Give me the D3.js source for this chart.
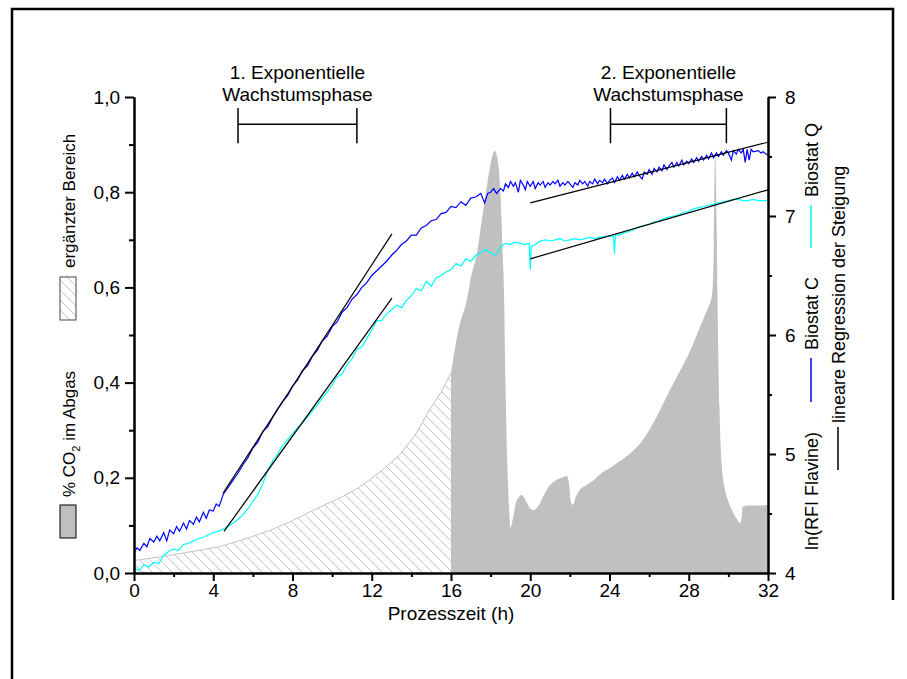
<!DOCTYPE html>
<html>
<head>
<meta charset="utf-8">
<script src="https://cdn.jsdelivr.net/npm/d3@7"></script>
<style>
  body { margin: 0; background: #fff; }
  text { font-family: "Liberation Sans", Arial, sans-serif; fill: #000; }
</style>
</head>
<body>
<script>
// % CO2 im Abgas, gemessen (linke Achse)
var co2Measured = [[16.0,0.42],[16.37,0.51],[16.83,0.58],[17.0,0.62],[17.3,0.67],[17.55,0.74],[17.8,0.81],[18.0,0.86],[18.2,0.887],[18.35,0.87],[18.48,0.81],[18.61,0.67],[18.68,0.58],[18.75,0.40],[18.85,0.22],[18.95,0.12],[19.0,0.095],[19.1,0.11],[19.3,0.15],[19.57,0.164],[19.8,0.15],[20.0,0.135],[20.14,0.132],[20.4,0.14],[20.7,0.165],[21.0,0.185],[21.3,0.195],[21.6,0.2],[21.84,0.204],[21.95,0.19],[22.05,0.15],[22.16,0.143],[22.3,0.16],[22.5,0.175],[22.85,0.185],[23.2,0.195],[23.6,0.21],[24.0,0.22],[24.5,0.234],[25.0,0.25],[25.5,0.27],[26.0,0.3],[26.55,0.342],[27.0,0.38],[27.5,0.42],[28.0,0.46],[28.23,0.482],[28.6,0.52],[29.0,0.56],[29.1,0.57],[29.2,0.595],[29.27,0.70],[29.33,0.889],[29.4,0.75],[29.45,0.58],[29.55,0.35],[29.66,0.23],[29.8,0.18],[29.92,0.16],[30.2,0.13],[30.4,0.115],[30.6,0.105],[30.68,0.12],[30.72,0.139],[31.0,0.142],[31.5,0.142],[32.0,0.143]];

// ergänzter Bereich (linke Achse)
var co2Supplemented = [[0,0.026],[1.3,0.034],[2.5,0.042],[4.3,0.055],[5.5,0.07],[6.9,0.09],[8.0,0.11],[9.4,0.139],[10.5,0.16],[11.4,0.181],[12.5,0.215],[13.4,0.248],[14.2,0.29],[14.9,0.342],[15.5,0.38],[16.0,0.42]];

// ln(RFI Flavine), blaue Kurve (rechte Achse)
var rfiBlue = [[0,4.17],[0.15,4.21],[0.3,4.19],[0.5,4.25],[0.65,4.22],[0.8,4.29],[1,4.26],[1.15,4.31],[1.3,4.27],[1.5,4.34],[1.65,4.27],[1.8,4.36],[2,4.33],[2.15,4.39],[2.3,4.35],[2.5,4.42],[2.65,4.37],[2.8,4.44],[3,4.41],[3.15,4.47],[3.3,4.43],[3.5,4.51],[3.65,4.46],[3.8,4.53],[4,4.52],[4.15,4.58],[4.3,4.56],[4.5,4.66],[4.75,4.72],[5,4.78],[5.25,4.84],[5.5,4.91],[5.75,4.97],[6,5.05],[6.25,5.10],[6.5,5.19],[6.75,5.23],[7,5.31],[7.25,5.38],[7.5,5.44],[7.75,5.49],[8,5.57],[8.25,5.62],[8.5,5.70],[8.75,5.74],[9,5.82],[9.25,5.87],[9.5,5.95],[9.75,5.99],[10,6.07],[10.25,6.11],[10.5,6.19],[10.75,6.23],[11,6.30],[11.25,6.34],[11.5,6.40],[11.75,6.44],[12,6.50],[12.25,6.54],[12.5,6.58],[12.75,6.62],[13,6.67],[13.25,6.71],[13.5,6.76],[13.75,6.79],[14,6.84],[14.25,6.84],[14.5,6.90],[14.75,6.92],[15,6.96],[15.25,6.97],[15.5,7.02],[15.75,7.03],[16,7.08],[16.25,7.07],[16.5,7.12],[16.75,7.09],[17,7.15],[17.25,7.16],[17.5,7.19],[17.7,7.11],[17.85,7.19],[18,7.20],[18.15,7.23],[18.3,7.19],[18.5,7.23],[18.65,7.21],[18.75,7.27],[18.9,7.24],[19,7.29],[19.15,7.25],[19.25,7.28],[19.4,7.20],[19.5,7.30],[19.65,7.26],[19.75,7.22],[19.85,7.29],[20,7.25],[20.15,7.29],[20.25,7.23],[20.4,7.28],[20.5,7.26],[20.65,7.29],[20.75,7.24],[20.9,7.28],[21,7.26],[21.15,7.29],[21.25,7.27],[21.4,7.30],[21.5,7.25],[21.65,7.28],[21.75,7.26],[21.9,7.29],[22,7.27],[22.15,7.24],[22.25,7.28],[22.4,7.26],[22.5,7.30],[22.65,7.27],[22.75,7.29],[22.9,7.25],[23,7.29],[23.15,7.27],[23.25,7.31],[23.4,7.27],[23.5,7.30],[23.65,7.28],[23.75,7.31],[23.9,7.27],[24,7.30],[24.15,7.32],[24.25,7.28],[24.4,7.33],[24.5,7.30],[24.65,7.34],[24.75,7.31],[24.9,7.35],[25,7.32],[25.15,7.36],[25.25,7.33],[25.4,7.37],[25.5,7.34],[25.65,7.31],[25.75,7.37],[25.9,7.35],[26,7.39],[26.15,7.35],[26.25,7.40],[26.4,7.37],[26.5,7.41],[26.65,7.38],[26.75,7.43],[26.9,7.39],[27,7.42],[27.15,7.45],[27.25,7.41],[27.4,7.45],[27.5,7.42],[27.65,7.47],[27.75,7.43],[27.9,7.46],[28,7.44],[28.15,7.48],[28.25,7.45],[28.4,7.49],[28.5,7.46],[28.65,7.50],[28.75,7.47],[28.9,7.51],[29,7.48],[29.15,7.53],[29.25,7.49],[29.4,7.53],[29.5,7.50],[29.65,7.54],[29.75,7.51],[29.9,7.55],[30,7.53],[30.15,7.47],[30.25,7.55],[30.4,7.52],[30.5,7.56],[30.65,7.53],[30.75,7.56],[30.85,7.45],[30.95,7.56],[31.05,7.47],[31.15,7.56],[31.25,7.54],[31.5,7.55],[31.65,7.53],[31.75,7.54],[31.9,7.52],[32,7.51]];

// ln(RFI Flavine), türkise Kurve (rechte Achse)
var rfiCyan = [[0,4.04],[0.25,4.02],[0.5,4.07],[0.75,4.05],[1,4.09],[1.25,4.08],[1.5,4.15],[1.75,4.18],[2,4.20],[2.25,4.19],[2.5,4.24],[2.75,4.25],[3,4.27],[3.25,4.29],[3.5,4.30],[3.75,4.32],[4,4.34],[4.25,4.35],[4.5,4.37],[4.75,4.39],[5,4.42],[5.25,4.45],[5.5,4.49],[5.75,4.54],[6,4.60],[6.25,4.66],[6.5,4.75],[6.75,4.86],[7,4.94],[7.25,5.00],[7.5,5.07],[7.75,5.12],[8,5.17],[8.25,5.22],[8.5,5.26],[8.75,5.31],[9,5.36],[9.25,5.41],[9.5,5.47],[9.75,5.52],[10,5.58],[10.25,5.65],[10.5,5.67],[10.75,5.75],[11,5.80],[11.25,5.88],[11.5,5.90],[11.75,5.97],[12,6.04],[12.25,6.12],[12.5,6.12],[12.75,6.18],[13,6.21],[13.25,6.25],[13.5,6.23],[13.75,6.29],[14,6.33],[14.25,6.39],[14.5,6.37],[14.75,6.45],[15,6.41],[15.25,6.48],[15.5,6.50],[15.75,6.53],[16,6.55],[16.25,6.60],[16.5,6.58],[16.75,6.64],[17,6.62],[17.25,6.67],[17.5,6.69],[17.75,6.72],[18,6.69],[18.25,6.67],[18.5,6.74],[18.75,6.77],[19,6.76],[19.25,6.78],[19.5,6.77],[19.75,6.76],[19.95,6.77],[20.0,6.55],[20.05,6.74],[20.25,6.76],[20.5,6.79],[20.75,6.80],[21,6.79],[21.25,6.80],[21.5,6.81],[21.75,6.79],[22,6.80],[22.25,6.81],[22.5,6.80],[22.75,6.81],[23,6.82],[23.25,6.81],[23.5,6.82],[23.75,6.83],[24,6.83],[24.2,6.83],[24.25,6.68],[24.3,6.84],[24.5,6.84],[24.75,6.86],[25,6.87],[25.25,6.89],[25.5,6.91],[25.75,6.92],[26,6.93],[26.25,6.95],[26.5,6.96],[26.75,6.98],[27,6.99],[27.25,7.00],[27.5,7.01],[27.75,7.03],[28,7.04],[28.25,7.06],[28.5,7.07],[28.75,7.08],[29,7.09],[29.25,7.10],[29.5,7.11],[29.75,7.12],[30,7.13],[30.25,7.14],[30.5,7.14],[30.75,7.13],[31,7.13],[31.25,7.14],[31.5,7.13],[31.75,7.13],[32,7.13]];

// lineare Regression der Steigung (rechte Achse)
var regBlue1 = [[4.49,4.67],[13.02,6.85]];
var regCyan1 = [[4.54,4.35],[13.02,6.31]];
var regBlue2 = [[20.0,7.11],[32.0,7.62]];
var regCyan2 = [[20.0,6.64],[32.0,7.22]];

// Wachstumsphasen: Beginn, Ende (h)
var phaseRanges = [[5.25, 11.25], [24.05, 29.9]];
var phaseLabels = [['1. Exponentielle', 'Wachstumsphase'], ['2. Exponentielle', 'Wachstumsphase']];

var xTicks = [0, 4, 8, 12, 16, 20, 24, 28, 32];
var xMinor = [2, 6, 10, 14, 18, 22, 26, 30];
var leftTicks = [0, 0.2, 0.4, 0.6, 0.8, 1.0];
var leftMinor = [0.1, 0.3, 0.5, 0.7, 0.9];
var rightTicks = [4, 5, 6, 7, 8];
var rightMinor = [4.5, 5.5, 6.5, 7.5];

var W = 907, H = 679;
var fontSize = 19;

var svg = d3.select('body').append('svg')
  .attr('width', W)
  .attr('height', H);

var x = d3.scaleLinear().domain([0, 32]).range([134, 768]);
var yL = d3.scaleLinear().domain([0, 1]).range([573, 97]);
var yR = d3.scaleLinear().domain([4, 8]).range([573, 97]);

// hatch pattern for the supplemented area
var defs = svg.append('defs');
defs.append('pattern')
  .attr('id', 'hatch')
  .attr('patternUnits', 'userSpaceOnUse')
  .attr('width', 10)
  .attr('height', 10)
  .append('path')
  .attr('d', 'M-1,-1 L11,11 M-2,8 L2,12 M8,-2 L12,2')
  .attr('stroke', '#c4c4c4')
  .attr('stroke-width', 1);

// outer frame
svg.append('path')
  .attr('d', 'M12,679 V9 H893 V600')
  .attr('fill', 'none')
  .attr('stroke', '#000')
  .attr('stroke-width', 2.5);

var areaL = d3.area()
  .x(d => x(d[0]))
  .y0(yL(0))
  .y1(d => yL(d[1]));

svg.append('path')
  .datum(co2Supplemented)
  .attr('d', areaL)
  .attr('fill', 'url(#hatch)');

svg.append('path')
  .datum(co2Supplemented)
  .attr('d', d3.line().x(d => x(d[0])).y(d => yL(d[1])))
  .attr('fill', 'none')
  .attr('stroke', '#c4c4c4')
  .attr('stroke-width', 1);

svg.append('path')
  .datum(co2Measured)
  .attr('d', areaL.curve(d3.curveMonotoneX))
  .attr('fill', '#c0c0c0');

var lineR = d3.line()
  .x(d => x(d[0]))
  .y(d => yR(d[1]));

svg.append('path')
  .datum(rfiCyan)
  .attr('d', lineR)
  .attr('fill', 'none')
  .attr('stroke', '#00ffff')
  .attr('stroke-width', 1.2);

svg.append('path')
  .datum(rfiBlue)
  .attr('d', lineR)
  .attr('fill', 'none')
  .attr('stroke', '#0000ff')
  .attr('stroke-width', 1.2);

[regBlue1, regCyan1, regBlue2, regCyan2].forEach((reg) => {
  svg.append('path')
    .datum(reg)
    .attr('d', lineR)
    .attr('fill', 'none')
    .attr('stroke', '#000')
    .attr('stroke-width', 1.2);
});

// phase brackets and labels (left axis units for height)
phaseRanges.forEach((range, i) => {
  var x1 = x(range[0]), x2 = x(range[1]);
  var yMid = yL(0.943), yTop = yL(0.977), yBot = yL(0.903);
  svg.append('path')
    .attr('d', 'M' + x1 + ',' + yTop + ' V' + yBot + ' M' + x1 + ',' + yMid + ' H' + x2 + ' M' + x2 + ',' + yTop + ' V' + yBot)
    .attr('fill', 'none')
    .attr('stroke', '#000')
    .attr('stroke-width', 1.5);

  var cx = (x1 + x2) / 2;
  phaseLabels[i].forEach((label, j) => {
    svg.append('text')
      .attr('x', cx)
      .attr('y', 79 + j * 22)
      .attr('text-anchor', 'middle')
      .attr('font-size', fontSize)
      .text(label);
  });
});

// axes
var styleAxis = (g) => {
  g.attr('font-size', fontSize).attr('font-family', '"Liberation Sans", Arial, sans-serif');
  g.selectAll('path, line').attr('stroke', '#000').attr('stroke-width', 2);
};

var fmtComma = (d) => d3.format('.1f')(d).replace('.', ',');

svg.append('g')
  .attr('transform', 'translate(0,' + yL(0) + ')')
  .call(d3.axisBottom(x).tickValues(xTicks).tickSize(8).tickSizeOuter(0).tickPadding(3).tickFormat(d3.format('d')))
  .call(styleAxis);
svg.append('g')
  .attr('transform', 'translate(0,' + yL(0) + ')')
  .call(d3.axisBottom(x).tickValues(xMinor).tickSize(4).tickSizeOuter(0).tickFormat(''))
  .call(styleAxis);

svg.append('g')
  .attr('transform', 'translate(' + x(0) + ',0)')
  .call(d3.axisLeft(yL).tickValues(leftTicks).tickSize(9).tickSizeOuter(0).tickPadding(5).tickFormat(fmtComma))
  .call(styleAxis);
svg.append('g')
  .attr('transform', 'translate(' + x(0) + ',0)')
  .call(d3.axisLeft(yL).tickValues(leftMinor).tickSize(5).tickSizeOuter(0).tickFormat(''))
  .call(styleAxis);

svg.append('g')
  .attr('transform', 'translate(' + x(32) + ',0)')
  .call(d3.axisRight(yR).tickValues(rightTicks).tickSize(8).tickSizeOuter(0).tickPadding(9).tickFormat(d3.format('d')))
  .call(styleAxis);
svg.append('g')
  .attr('transform', 'translate(' + x(32) + ',0)')
  .call(d3.axisRight(yR).tickValues(rightMinor).tickSize(4).tickSizeOuter(0).tickFormat(''))
  .call(styleAxis);

svg.append('text')
  .attr('x', (x(0) + x(32)) / 2)
  .attr('y', 620)
  .attr('text-anchor', 'middle')
  .attr('font-size', fontSize)
  .text('Prozesszeit (h)');

// left legend (rotated)
var legendFont = 17;
svg.append('rect')
  .attr('x', 60).attr('y', 505).attr('width', 16).attr('height', 33)
  .attr('fill', '#c0c0c0').attr('stroke', '#000').attr('stroke-width', 1);
var co2Text = svg.append('text')
  .attr('transform', 'translate(75,497) rotate(-90)')
  .attr('font-size', legendFont);
co2Text.append('tspan').text('% CO');
co2Text.append('tspan').attr('font-size', 11).attr('dy', 5).text('2');
co2Text.append('tspan').attr('dy', -5).text(' im Abgas');

svg.append('rect')
  .attr('x', 60).attr('y', 277).attr('width', 16).attr('height', 43)
  .attr('fill', 'url(#hatch)').attr('stroke', '#444').attr('stroke-width', 1);
svg.append('text')
  .attr('transform', 'translate(75,268) rotate(-90)')
  .attr('font-size', legendFont)
  .text('ergänzter Bereich');

// right legend (rotated)
var rightLegend = [
  { text: 'ln(RFI Flavine)', bx: 818, y: 550 },
  { line: '#0000ff', lx: 811, y1: 402, y2: 358 },
  { text: 'Biostat C', bx: 818, y: 350 },
  { line: '#00ffff', lx: 811, y1: 248, y2: 205 },
  { text: 'Biostat Q', bx: 818, y: 197 },
  { line: '#000', lx: 838, y1: 470, y2: 427 },
  { text: 'lineare Regression der Steigung', bx: 845, y: 423 }
];
rightLegend.forEach((item) => {
  if (item.text) {
    svg.append('text')
      .attr('transform', 'translate(' + item.bx + ',' + item.y + ') rotate(-90)')
      .attr('font-size', 18)
      .text(item.text);
  } else {
    svg.append('line')
      .attr('x1', item.lx).attr('x2', item.lx)
      .attr('y1', item.y1).attr('y2', item.y2)
      .attr('stroke', item.line)
      .attr('stroke-width', 1.5);
  }
});
</script>
</body>
</html>
